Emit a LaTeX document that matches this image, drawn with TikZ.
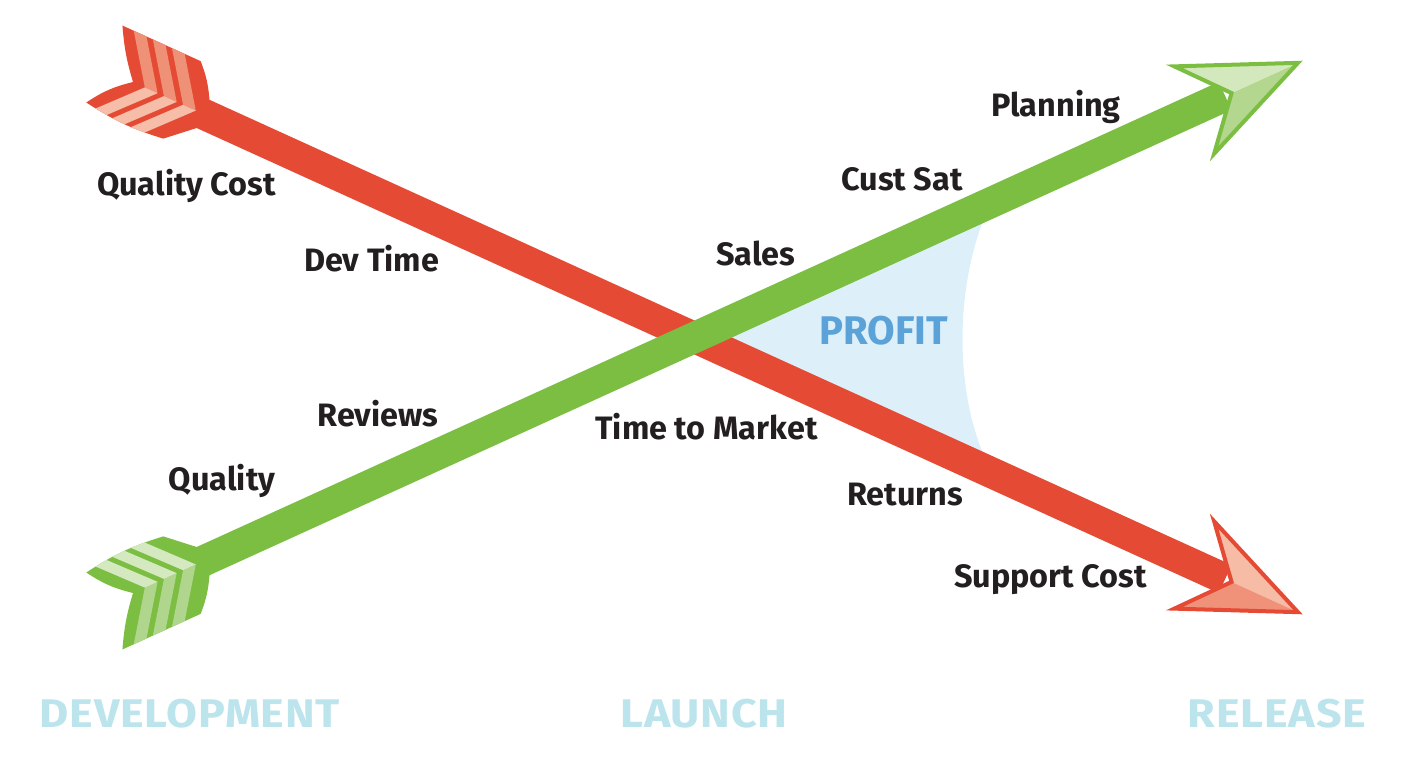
\documentclass[tikz,border=0pt]{standalone}
\usepackage{fontspec}
\setmainfont{Fira Sans}
\newfontfamily\phasefont{Fira Sans}[FakeStretch=1.12, LetterSpace=2]
\definecolor{redarrow}{HTML}{E54B34}
\definecolor{greenarrow}{HTML}{7BBE42}
\definecolor{redvaneA}{HTML}{EF9176}
\definecolor{redvaneB}{HTML}{F6BDA8}
\definecolor{redheadA}{HTML}{F6BCA6}
\definecolor{redheadB}{HTML}{F0927A}
\definecolor{greenvaneA}{HTML}{B0D58C}
\definecolor{greenvaneB}{HTML}{D4E9BF}
\definecolor{greenheadA}{HTML}{B3D78E}
\definecolor{greenheadB}{HTML}{D3E8BC}
\definecolor{profitfill}{HTML}{DDF0FA}
\definecolor{profittext}{HTML}{5AA2D8}
\definecolor{phasetext}{HTML}{BCE4EC}
\definecolor{labeltext}{HTML}{231F20}
\newcommand{\fletcharrow}[5]{%
\begin{scope}[shift={(133,82)}, rotate=-24.47]
  \draw[line width=31, #1] (60,0) -- (1200,0);
  \fill[#1] (0,0) to[bend left=6] (-33,-47) -- (53,-47) to[bend left=8] (77,-15.5)
     -- (77,15.5) -- (51,39) to[bend left=8] (-34,38) to[bend left=10] cycle;
  \begin{scope}
    \clip (0,0) to[bend left=6] (-33,-47) -- (53,-47) to[bend left=8] (77,-15.5)
     -- (77,15.5) -- (51,39) to[bend left=8] (-34,38) to[bend left=10] cycle;
    \foreach \k in {13,34,55} {
      \fill[#2] (\k,0) -- (\k-40,-56) -- (\k-26,-56) -- (\k+14,0) -- cycle;
      \fill[#3] (\k,0) -- (\k-51,56) -- (\k-37,56) -- (\k+14,0) -- cycle;
    }
  \end{scope}
  \fill[#4] (1280,0) -- (1166,-48) -- (1207,0) -- cycle;
  \fill[#5] (1280,0) -- (1207,0) -- (1166,48) -- cycle;
  \draw[#1, line width=4, line join=miter] (1280,0) -- (1166,-48) -- (1207,0) -- (1166,48) -- cycle;
\end{scope}}
\tikzset{
  lbl/.style={text=labeltext, anchor=base, inner sep=0pt, font=\bfseries\fontsize{32.4}{38}\selectfont},
  phase/.style={text=phasetext, anchor=base, inner sep=0pt, font=\phasefont\bfseries\fontsize{40}{46}\selectfont},
}
\begin{document}
\begin{tikzpicture}[x=1pt, y=-1pt]
\useasboundingbox (0,0) rectangle (1424,772);
% profit region
\fill[profitfill] (708,338) -- (985,216) .. controls (955,290) and (955,390) .. (985,458) -- cycle;
% arrows
\fletcharrow{redarrow}{redvaneA}{redvaneB}{redheadA}{redheadB}
\begin{scope}[shift={(0,675)}, yscale=-1]
\fletcharrow{greenarrow}{greenvaneA}{greenvaneB}{greenheadA}{greenheadB}
\end{scope}
% labels
\node[lbl] (qc) at (186.5,195) {Quality Cost};
\node[lbl] (dt) at (371.5,271) {Dev Time};
\node[lbl] (pl) at (1056,116) {Planning};
\node[lbl] (cs) at (902,190) {Cust Sat};
\node[lbl] (sa) at (755.5,265) {Sales};
\node[lbl, text=profittext, font=\bfseries\fontsize{40}{46}\selectfont] (pr) at (883.5,344) {PROFIT};
\node[lbl] (rv) at (378,426) {Reviews};
\node[lbl] (tm) at (706.5,439) {Time to Market};
\node[lbl] (qu) at (222,490) {Quality};
\node[lbl] (re) at (905,505) {Returns};
\node[lbl] (sc) at (1050.5,587) {Support Cost};
\node[phase] (dev) at (190,727) {DEVELOPMENT};
\node[phase] (lau) at (704,727) {LAUNCH};
\node[phase] (rel) at (1277,727) {RELEASE};
\end{tikzpicture}
\end{document}
